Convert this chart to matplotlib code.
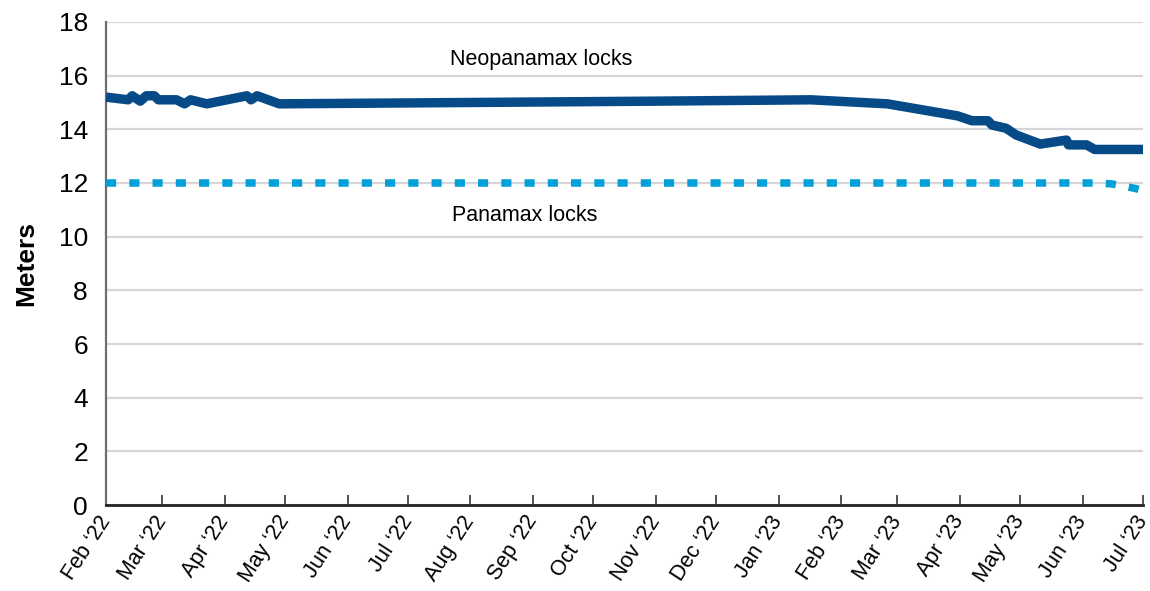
import matplotlib
matplotlib.use("Agg")
import matplotlib.pyplot as plt
import matplotlib.transforms as mtransforms
import numpy as np

plt.rcParams['font.family'] = ['Liberation Sans', 'DejaVu Sans']

# Neopanamax locks draft limit (m)
neo_dates = ['2022-02-01', '2022-02-12', '2022-02-14', '2022-02-18', '2022-02-21',
             '2022-02-25', '2022-02-27', '2022-03-08', '2022-03-12', '2022-03-15',
             '2022-03-23', '2022-04-12', '2022-04-14', '2022-04-17', '2022-04-28',
             '2022-08-01', '2022-11-01', '2023-01-17', '2023-02-24', '2023-03-31',
             '2023-04-07', '2023-04-15', '2023-04-17', '2023-04-24', '2023-04-29',
             '2023-05-11', '2023-05-24', '2023-05-25', '2023-06-03', '2023-06-07',
             '2023-07-01']
neo_vals = [15.2, 15.1, 15.25, 15.05, 15.25,
            15.25, 15.1, 15.1, 14.95, 15.1,
            14.95, 15.25, 15.1, 15.25, 14.95,
            15.0, 15.05, 15.1, 14.95, 14.5,
            14.32, 14.32, 14.16, 14.04, 13.79,
            13.45, 13.6, 13.42, 13.42, 13.25,
            13.25]

# Panamax locks draft limit (m)
pan_dates = ['2022-02-01', '2023-06-08', '2023-06-15', '2023-06-22', '2023-06-28', '2023-07-01']
pan_vals = [12.0, 12.0, 11.97, 11.88, 11.78, 11.72]

month_ticks = ['2022-02-01', '2022-03-01', '2022-04-01', '2022-05-01', '2022-06-01',
               '2022-07-01', '2022-08-01', '2022-09-01', '2022-10-01', '2022-11-01',
               '2022-12-01', '2023-01-01', '2023-02-01', '2023-03-01', '2023-04-01',
               '2023-05-01', '2023-06-01', '2023-07-01']
month_labels = ['Feb \u201822', 'Mar \u201822', 'Apr \u201822', 'May \u201822', 'Jun \u201822',
                'Jul \u201822', 'Aug \u201822', 'Sep \u201822', 'Oct \u201822', 'Nov \u201822',
                'Dec \u201822', 'Jan \u201823', 'Feb \u201823', 'Mar \u201823', 'Apr \u201823',
                'May \u201823', 'Jun \u201823', 'Jul \u201823']

nd = np.array(neo_dates, dtype='datetime64[D]')
pd_ = np.array(pan_dates, dtype='datetime64[D]')
td = np.array(month_ticks, dtype='datetime64[D]')

fig = plt.figure(figsize=(11.5, 5.91), dpi=100)
ax = fig.add_axes([0.0922, 0.1455, 0.9017, 0.8173])

ax.plot(pd_, pan_vals, color='#00a0d8', lw=5.4, linestyle=(0, (1.35, 1.75)),
        solid_capstyle='butt', dash_capstyle='butt', zorder=3)
ax.plot(nd, neo_vals, color='#064a88', lw=6.8, solid_joinstyle='round',
        solid_capstyle='butt', zorder=4)

ax.set_ylim(0, 18)
ax.set_yticks(np.arange(0, 19, 2))
ax.set_xlim(td[0], td[-1])
ax.set_xticks(td)
ax.set_xticklabels(month_labels, rotation=57, ha='right', va='center',
                   rotation_mode='anchor')
ax.grid(axis='y', color='#d4d6da', lw=1.6)
ax.set_axisbelow(True)

ax.tick_params(axis='y', length=0, pad=13, labelsize=19)
ax.tick_params(axis='x', direction='in', length=7, width=1.2, color='#333333',
               labelsize=15.5, pad=3)
offset = mtransforms.ScaledTranslation(0, -6 / 72, fig.dpi_scale_trans)
for lab in ax.get_xticklabels():
    lab.set_transform(lab.get_transform() + offset)

for s in ['top', 'right']:
    ax.spines[s].set_visible(False)
ax.spines['left'].set_color('#6e6e6e')
ax.spines['left'].set_linewidth(1.6)
ax.spines['bottom'].set_color('#222222')
ax.spines['bottom'].set_linewidth(2)

ax.set_ylabel('Meters', fontsize=19, fontweight='bold', labelpad=15)

ax.text(np.datetime64('2022-07-22'), 16.6, 'Neopanamax locks', fontsize=15.5, va='center')
ax.text(np.datetime64('2022-07-23'), 10.8, 'Panamax locks', fontsize=15.5, va='center')

fig.savefig('out.png', dpi=100)
